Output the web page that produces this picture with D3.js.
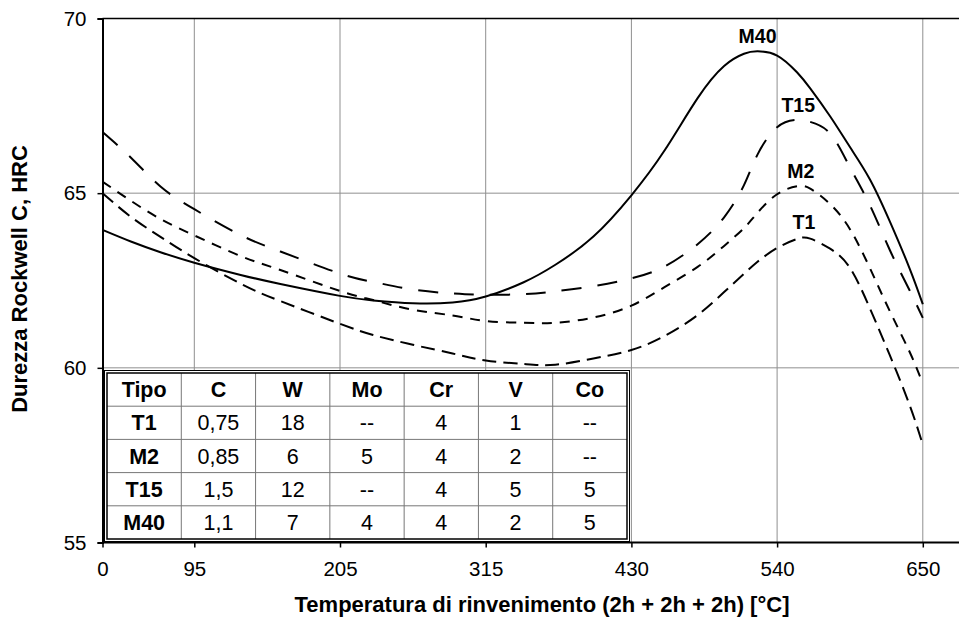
<!DOCTYPE html>
<html>
<head>
<meta charset="utf-8">
<script src="https://cdn.jsdelivr.net/npm/d3@7"></script>
<style>
  body { margin: 0; background: #fff; }
  svg { font-family: "Liberation Sans", Arial, sans-serif; display: block; }
</style>
</head>
<body>
<svg id="chart"></svg>
<script>
// Temperature samples (°C) shared by all curves
const temps = [0, 30, 60, 95, 130, 160, 205, 230, 260, 290, 315, 345, 370, 400, 430,
  455, 480, 500, 515, 525, 540, 555, 565, 580, 595, 610, 625, 640, 650];

// Hardness HRC
const hrcM40 = [63.95, 63.61, 63.31, 63.01, 62.66, 62.4, 62.06, 61.93, 61.85, 61.87, 62.04, 62.45, 62.95, 63.76, 64.94,
  66.22, 67.72, 68.64, 68.99, 69.06, 68.94, 68.46, 68.0, 67.2, 66.32, 65.4, 64.2, 62.85, 61.82];
const hrcT15 = [66.75, 66.0, 65.19, 64.54, 63.8, 63.33, 62.7, 62.46, 62.24, 62.13, 62.09, 62.11, 62.19, 62.34, 62.56,
  62.9, 63.54, 64.31, 65.23, 66.09, 66.89, 67.1, 67.04, 66.71, 65.74, 64.66, 63.38, 62.22, 61.43];
const hrcM2 = [65.33, 64.77, 64.26, 63.79, 63.2, 62.8, 62.2, 61.94, 61.66, 61.5, 61.34, 61.29, 61.29, 61.44, 61.78,
  62.31, 62.89, 63.49, 64.0, 64.43, 64.97, 65.2, 65.13, 64.69, 63.97, 62.86, 61.63, 60.46, 59.55];
const hrcT1 = [65.0, 64.31, 63.75, 63.14, 62.41, 61.91, 61.26, 60.94, 60.66, 60.41, 60.21, 60.11, 60.09, 60.27, 60.51,
  60.91, 61.51, 62.17, 62.69, 63.03, 63.43, 63.69, 63.7, 63.41, 62.86, 61.71, 60.37, 58.94, 57.8];

const xTicks = [0, 95, 205, 315, 430, 540, 650];
const yTicks = [55, 60, 65, 70];

// Composition table
const tableHeader = ['Tipo', 'C', 'W', 'Mo', 'Cr', 'V', 'Co'];
const tableRows = [
  ['T1', '0,75', '18', '--', '4', '1', '--'],
  ['M2', '0,85', '6', '5', '4', '2', '--'],
  ['T15', '1,5', '12', '--', '4', '5', '5'],
  ['M40', '1,1', '7', '4', '4', '2', '5']
];

const series = [
  { name: 'M40', values: hrcM40, dash: null },
  { name: 'T15', values: hrcT15, dash: '20,16' },
  { name: 'M2', values: hrcM2, dash: '10,8' },
  { name: 'T1', values: hrcT1, dash: '14,7' }
];

const W = 959, H = 620;
const margin = { top: 18.5, left: 102.5, bottom: 77.5 };
const plotW = W - margin.left + 20;
const plotH = H - margin.top - margin.bottom;

const svg = d3.select('#chart')
  .attr('width', W)
  .attr('height', H);

const g = svg.append('g')
  .attr('transform', `translate(${margin.left},${margin.top})`);

// x axis labels are not evenly spaced in value, so piecewise scale
const firstGap = 91.8, step = 145.7;
const x = d3.scaleLinear()
  .domain(xTicks)
  .range(xTicks.map((t, i) => i === 0 ? 0 : firstGap + (i - 1) * step));

const y = d3.scaleLinear()
  .domain([55, 70])
  .range([plotH, 0]);

// gridlines
g.append('g')
  .selectAll('line.vgrid')
  .data(xTicks.slice(1))
  .enter().append('line')
  .attr('class', 'vgrid')
  .attr('x1', d => x(d)).attr('x2', d => x(d))
  .attr('y1', 0).attr('y2', plotH)
  .attr('stroke', '#8f8f8f')
  .attr('stroke-width', 1);

g.append('g')
  .selectAll('line.hgrid')
  .data(yTicks.slice(1, -1))
  .enter().append('line')
  .attr('class', 'hgrid')
  .attr('x1', 0).attr('x2', plotW)
  .attr('y1', d => y(d)).attr('y2', d => y(d))
  .attr('stroke', '#8f8f8f')
  .attr('stroke-width', 1);

// curves
const line = d3.line()
  .x((d, i) => x(temps[i]))
  .y(d => y(d))
  .curve(d3.curveNatural);

const paths = g.selectAll('.curve')
  .data(series)
  .enter().append('path')
  .attr('class', 'curve')
  .attr('fill', 'none')
  .attr('stroke', '#000')
  .attr('stroke-width', 2)
  .attr('stroke-dasharray', d => d.dash)
  .attr('d', d => line(d.values));

// curve names just above the hardness peak (right half of the chart)
const peakFrom = x(430);
paths.each(function(d) {
  const len = this.getTotalLength();
  let best = null;
  for (let l = 0; l <= len; l += 1) {
    const p = this.getPointAtLength(l);
    if (p.x < peakFrom) continue;
    if (!best || p.y < best.y) best = p;
  }
  g.append('text')
    .attr('x', best.x)
    .attr('y', best.y - 8)
    .attr('text-anchor', 'middle')
    .style('font-size', '19.5px')
    .style('font-weight', 'bold')
    .text(d.name);
});

// frame: top line and axes
g.append('line')
  .attr('x1', 0).attr('x2', plotW)
  .attr('y1', 0).attr('y2', 0)
  .attr('stroke', '#000').attr('stroke-width', 1.5);

const xAxis = g.append('g')
  .attr('transform', `translate(0,${plotH})`)
  .call(d3.axisBottom(x).tickValues(xTicks).tickSize(5).tickPadding(14));
xAxis.select('.domain').remove();
g.append('line')
  .attr('x1', 0).attr('x2', plotW)
  .attr('y1', plotH).attr('y2', plotH)
  .attr('stroke', '#000').attr('stroke-width', 2);

const yAxis = g.append('g')
  .call(d3.axisLeft(y).tickValues(yTicks).tickSize(5).tickPadding(11));
yAxis.select('.domain').attr('stroke-width', 2);

g.selectAll('.tick text')
  .style('font-size', '20.5px')
  .attr('fill', '#000');
g.selectAll('.tick line').attr('stroke-width', 1.5);

// axis titles
svg.append('text')
  .attr('x', 542)
  .attr('y', 612)
  .attr('text-anchor', 'middle')
  .style('font-size', '22px')
  .style('font-weight', 'bold')
  .text('Temperatura di rinvenimento (2h + 2h + 2h) [°C]');

svg.append('text')
  .attr('transform', 'translate(27,279) rotate(-90)')
  .attr('text-anchor', 'middle')
  .style('font-size', '22px')
  .style('font-weight', 'bold')
  .text('Durezza Rockwell C, HRC');

// composition table
const col = d3.scaleBand().domain(d3.range(tableHeader.length)).range([107, 627]);
const row = d3.scaleBand().domain(d3.range(tableRows.length + 1)).range([373, 539]);
const table = svg.append('g').attr('class', 'table');

table.append('rect')
  .attr('x', 104.5).attr('y', 370.5)
  .attr('width', 525).attr('height', 171)
  .attr('fill', '#fff')
  .attr('stroke', '#000').attr('stroke-width', 1);

table.selectAll('.vsep')
  .data(d3.range(1, tableHeader.length))
  .enter().append('line')
  .attr('x1', d => col(d)).attr('x2', d => col(d))
  .attr('y1', 373).attr('y2', 539)
  .attr('stroke', '#777').attr('stroke-width', 1);

table.selectAll('.hsep')
  .data(d3.range(1, tableRows.length + 1))
  .enter().append('line')
  .attr('x1', 107).attr('x2', 627)
  .attr('y1', d => row(d)).attr('y2', d => row(d))
  .attr('stroke', '#777').attr('stroke-width', 1);

table.append('rect')
  .attr('x', 107).attr('y', 373)
  .attr('width', 520).attr('height', 166)
  .attr('fill', 'none')
  .attr('stroke', '#000').attr('stroke-width', 1.5);

const allRows = [tableHeader].concat(tableRows);
allRows.forEach((r, ri) => {
  r.forEach((cell, ci) => {
    table.append('text')
      .attr('x', col(ci) + col.bandwidth() / 2)
      .attr('y', row(ri) + row.bandwidth() / 2)
      .attr('dy', '0.35em')
      .attr('text-anchor', 'middle')
      .style('font-size', '21.5px')
      .style('font-weight', (ri === 0 || ci === 0) ? 'bold' : 'normal')
      .text(cell);
  });
});
</script>
</body>
</html>
